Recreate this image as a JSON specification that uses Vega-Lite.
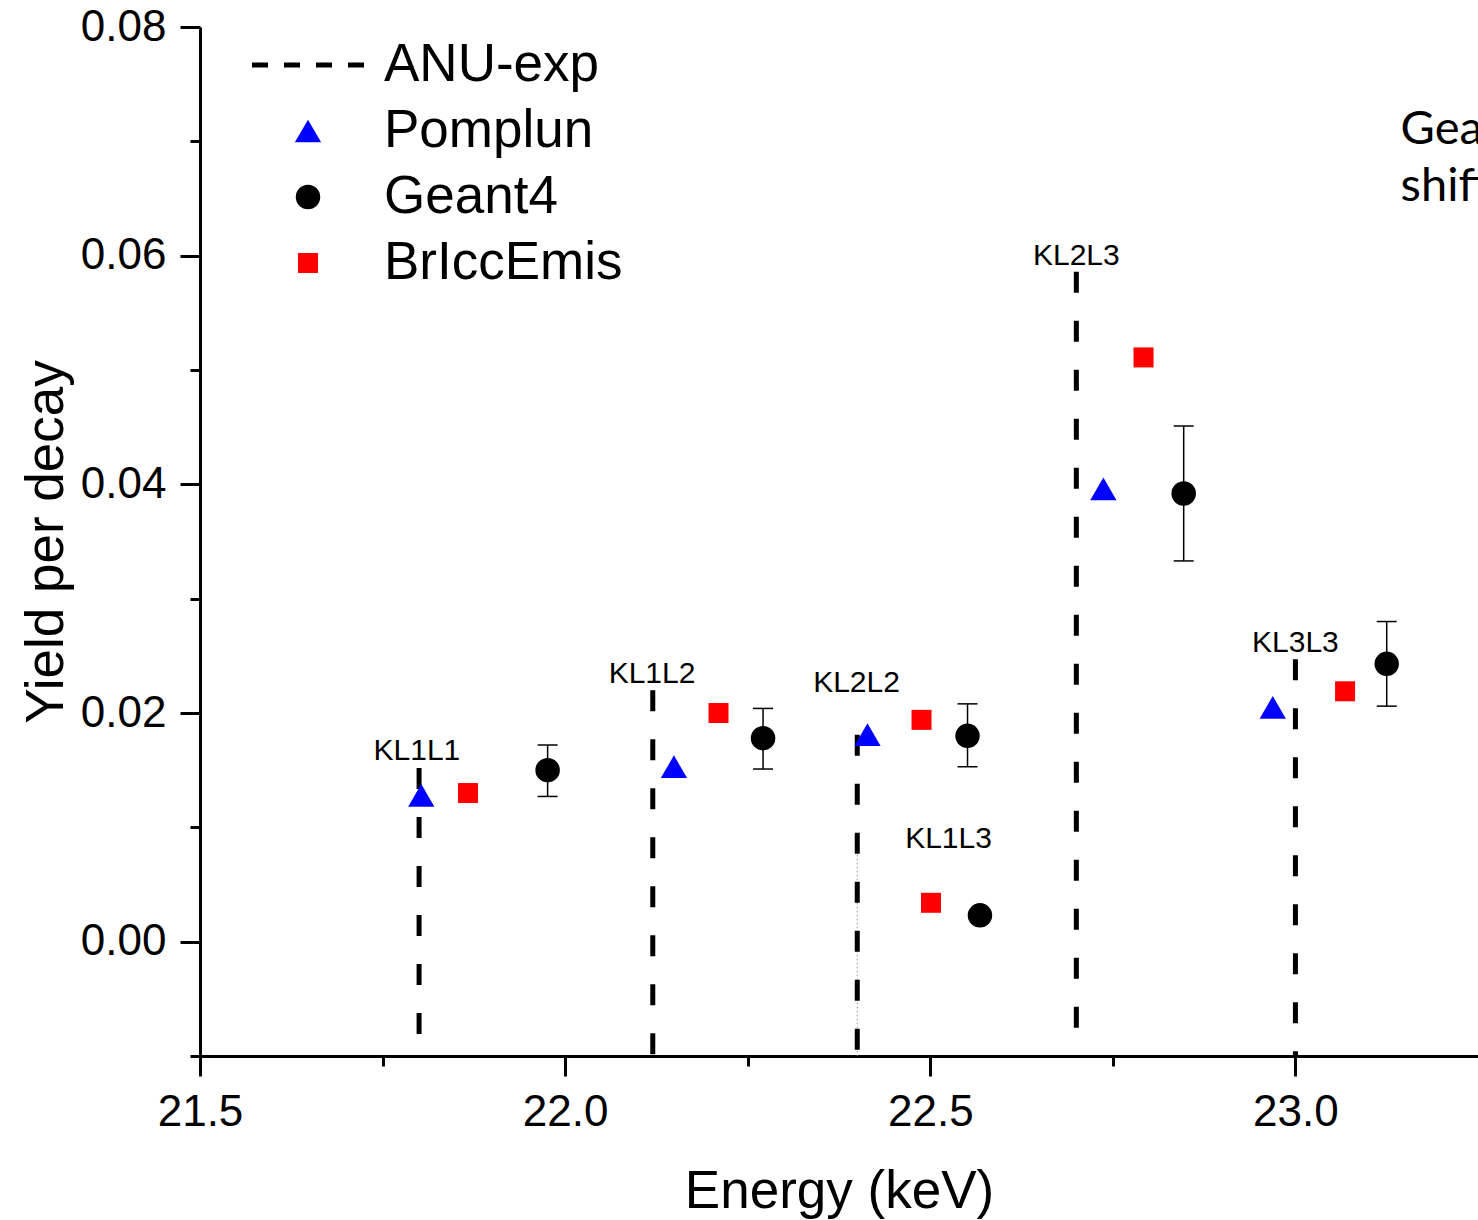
{
  "$schema": "https://vega.github.io/schema/vega-lite/v6.json",
  "width": 1278,
  "height": 1029,
  "autosize": {"type": "none"},
  "padding": {"left": 200, "top": 27, "right": 0, "bottom": 164},
  "background": "white",
  "config": {
    "view": {"stroke": null},
    "font": "Liberation Sans",
    "axis": {
      "domainColor": "black",
      "domainWidth": 3,
      "tickColor": "black",
      "tickWidth": 3,
      "grid": false,
      "labelFlush": false,
      "labelOverlap": false,
      "labelColor": "black",
      "titleColor": "black",
      "labelFont": "Liberation Sans",
      "titleFont": "Liberation Sans",
      "titleFontWeight": "normal"
    }
  },
  "datasets": {
    "anu": [
      {"line": "KL1L1", "energy": 21.80, "yield": 0.0152},
      {"line": "KL1L2", "energy": 22.12, "yield": 0.0220},
      {"line": "KL2L2", "energy": 22.40, "yield": 0.0181},
      {"line": "KL2L3", "energy": 22.70, "yield": 0.0586},
      {"line": "KL3L3", "energy": 23.00, "yield": 0.0247}
    ],
    "anuFaint": [
      {"line": "KL1L3", "energy": 22.40, "yield": 0.0076}
    ],
    "pts": [
      {"series": "Pomplun", "line": "KL1L1", "energy": 21.803, "yield": 0.0128},
      {"series": "Pomplun", "line": "KL1L2", "energy": 22.149, "yield": 0.0153},
      {"series": "Pomplun", "line": "KL2L2", "energy": 22.414, "yield": 0.0181},
      {"series": "Pomplun", "line": "KL2L3", "energy": 22.737, "yield": 0.0396},
      {"series": "Pomplun", "line": "KL3L3", "energy": 22.969, "yield": 0.0205},
      {"series": "Geant4", "line": "KL1L1", "energy": 21.976, "yield": 0.0150, "lo": 0.0127, "hi": 0.0172},
      {"series": "Geant4", "line": "KL1L2", "energy": 22.271, "yield": 0.0178, "lo": 0.0151, "hi": 0.0204},
      {"series": "Geant4", "line": "KL2L2", "energy": 22.551, "yield": 0.0180, "lo": 0.0153, "hi": 0.0208},
      {"series": "Geant4", "line": "KL1L3", "energy": 22.568, "yield": 0.0023},
      {"series": "Geant4", "line": "KL2L3", "energy": 22.847, "yield": 0.0392, "lo": 0.0333, "hi": 0.0451},
      {"series": "Geant4", "line": "KL3L3", "energy": 23.125, "yield": 0.0243, "lo": 0.0206, "hi": 0.0280},
      {"series": "BrIccEmis", "line": "KL1L1", "energy": 21.867, "yield": 0.0130},
      {"series": "BrIccEmis", "line": "KL1L2", "energy": 22.210, "yield": 0.0200},
      {"series": "BrIccEmis", "line": "KL2L2", "energy": 22.488, "yield": 0.0194},
      {"series": "BrIccEmis", "line": "KL1L3", "energy": 22.501, "yield": 0.0034},
      {"series": "BrIccEmis", "line": "KL2L3", "energy": 22.792, "yield": 0.0511},
      {"series": "BrIccEmis", "line": "KL3L3", "energy": 23.068, "yield": 0.0219}
    ],
    "labels": [
      {"text": "KL1L1", "energy": 21.797, "yield": 0.0167},
      {"text": "KL1L2", "energy": 22.119, "yield": 0.0234},
      {"text": "KL2L2", "energy": 22.399, "yield": 0.0226},
      {"text": "KL1L3", "energy": 22.525, "yield": 0.0090},
      {"text": "KL2L3", "energy": 22.700, "yield": 0.0600},
      {"text": "KL3L3", "energy": 23.000, "yield": 0.0261}
    ],
    "notes": [
      {"text": "Geant4", "energy": 23.144, "yield": 0.0710},
      {"text": "shifted", "energy": 23.144, "yield": 0.0660}
    ]
  },
  "layer": [
    {
      "description": "minor ticks on both axes",
      "data": {"name": "pts"},
      "mark": {"type": "point", "opacity": 0},
      "encoding": {
        "x": {"field": "energy", "type": "quantitative",
              "scale": {"domain": [21.5, 23.25], "nice": false, "zero": false},
              "axis": {"orient": "bottom", "values": [21.75, 22.25, 22.75], "tickSize": 10, "labels": false, "domain": false, "title": null}},
        "y": {"field": "yield", "type": "quantitative",
              "scale": {"domain": [-0.01, 0.08], "nice": false, "zero": false},
              "axis": {"orient": "left", "values": [-0.01, 0.01, 0.03, 0.05, 0.07], "tickSize": 10, "labels": false, "domain": false, "title": null}}
      }
    },
    {
      "data": {"name": "anuFaint"},
      "mark": {"type": "rule", "color": "#8a8a8a", "strokeWidth": 1, "strokeDash": [1.5, 2.5]},
      "encoding": {
        "x": {"field": "energy", "type": "quantitative", "scale": {"domain": [21.5, 23.25], "nice": false, "zero": false}, "axis": null},
        "y": {"field": "yield", "type": "quantitative", "scale": {"domain": [-0.01, 0.08], "nice": false, "zero": false}, "axis": null},
        "y2": {"datum": -0.01}
      }
    },
    {
      "data": {"name": "anu"},
      "mark": {"type": "rule", "color": "black", "strokeWidth": 5, "strokeDash": [21, 28], "strokeCap": "butt"},
      "encoding": {
        "x": {"field": "energy", "type": "quantitative",
              "scale": {"domain": [21.5, 23.25], "nice": false, "zero": false},
              "axis": {"orient": "bottom", "values": [21.5, 22.0, 22.5, 23.0], "format": ".1f", "tickSize": 20,
                       "labelFontSize": 44, "labelPadding": 14, "title": "Energy (keV)", "titleFontSize": 53,
                       "titleX": 639, "titleY": 151, "titleAlign": "center", "titleBaseline": "alphabetic"}},
        "y": {"field": "yield", "type": "quantitative",
              "scale": {"domain": [-0.01, 0.08], "nice": false, "zero": false},
              "axis": {"orient": "left", "values": [0, 0.02, 0.04, 0.06, 0.08], "format": ".2f", "tickSize": 20,
                       "labelFontSize": 44, "labelPadding": 14, "title": "Yield per decay", "titleFontSize": 53,
                       "titleAngle": -90, "titleX": -138, "titleY": 514.5, "titleAlign": "center", "titleBaseline": "alphabetic"}},
        "y2": {"datum": -0.01}
      }
    },
    {
      "data": {"name": "pts"},
      "transform": [{"filter": "isValid(datum.lo)"}],
      "mark": {"type": "rule", "color": "black", "strokeWidth": 1.5},
      "encoding": {
        "x": {"field": "energy", "type": "quantitative", "scale": {"domain": [21.5, 23.25], "nice": false, "zero": false}, "axis": null},
        "y": {"field": "lo", "type": "quantitative", "scale": {"domain": [-0.01, 0.08], "nice": false, "zero": false}, "axis": null},
        "y2": {"field": "hi"}
      }
    },
    {
      "data": {"name": "pts"},
      "transform": [{"filter": "isValid(datum.lo)"}],
      "mark": {"type": "tick", "orient": "horizontal", "color": "black", "size": 20, "thickness": 1.5, "opacity": 1},
      "encoding": {
        "x": {"field": "energy", "type": "quantitative", "scale": {"domain": [21.5, 23.25], "nice": false, "zero": false}, "axis": null},
        "y": {"field": "lo", "type": "quantitative", "scale": {"domain": [-0.01, 0.08], "nice": false, "zero": false}, "axis": null}
      }
    },
    {
      "data": {"name": "pts"},
      "transform": [{"filter": "isValid(datum.hi)"}],
      "mark": {"type": "tick", "orient": "horizontal", "color": "black", "size": 20, "thickness": 1.5, "opacity": 1},
      "encoding": {
        "x": {"field": "energy", "type": "quantitative", "scale": {"domain": [21.5, 23.25], "nice": false, "zero": false}, "axis": null},
        "y": {"field": "hi", "type": "quantitative", "scale": {"domain": [-0.01, 0.08], "nice": false, "zero": false}, "axis": null}
      }
    },
    {
      "data": {"name": "pts"},
      "mark": {"type": "point", "filled": true, "opacity": 1, "strokeWidth": 0},
      "encoding": {
        "x": {"field": "energy", "type": "quantitative", "scale": {"domain": [21.5, 23.25], "nice": false, "zero": false}, "axis": null},
        "y": {"field": "yield", "type": "quantitative", "scale": {"domain": [-0.01, 0.08], "nice": false, "zero": false}, "axis": null},
        "color": {"field": "series", "type": "nominal",
                  "scale": {"domain": ["ANU-exp", "Pomplun", "Geant4", "BrIccEmis"], "range": ["#000000", "#0000ff", "#000000", "#ff0000"]},
                  "legend": {"title": null, "orient": "none", "legendX": 81.5, "legendY": 11.5, "padding": 0,
                             "labelFont": "Liberation Sans", "labelFontSize": 53, "labelColor": "black", "labelLimit": 500,
                             "labelOffset": 49.5, "rowPadding": 12, "symbolStrokeWidth": 0, "symbolOpacity": 1}},
        "shape": {"field": "series", "type": "nominal",
                  "scale": {"domain": ["ANU-exp", "Pomplun", "Geant4", "BrIccEmis"],
                            "range": ["M-4.3077,-0.1923H-3.0769V0.1923H-4.3077ZM-1.8462,-0.1923H-0.6154V0.1923H-1.8462ZM0.6154,-0.1923H1.8462V0.1923H0.6154ZM3.0769,-0.1923H4.3077V0.1923H3.0769Z", "triangle-up", "circle", "square"]},
                  "legend": {"title": null, "orient": "none", "legendX": 81.5, "legendY": 11.5, "padding": 0,
                             "labelFont": "Liberation Sans", "labelFontSize": 53, "labelColor": "black", "labelLimit": 500,
                             "labelOffset": 49.5, "rowPadding": 12, "symbolStrokeWidth": 0, "symbolOpacity": 1}},
        "size": {"field": "series", "type": "nominal",
                 "scale": {"type": "ordinal", "domain": ["ANU-exp", "Pomplun", "Geant4", "BrIccEmis"], "range": [676, 690, 600, 400]},
                 "legend": {"title": null, "orient": "none", "legendX": 81.5, "legendY": 11.5, "padding": 0,
                            "labelFont": "Liberation Sans", "labelFontSize": 53, "labelColor": "black", "labelLimit": 500,
                            "labelOffset": 49.5, "rowPadding": 12, "symbolStrokeWidth": 0, "symbolOpacity": 1}}
      }
    },
    {
      "data": {"name": "labels"},
      "mark": {"type": "text", "font": "Liberation Sans", "fontSize": 30, "color": "black", "align": "center", "baseline": "middle"},
      "encoding": {
        "x": {"field": "energy", "type": "quantitative", "scale": {"domain": [21.5, 23.25], "nice": false, "zero": false}, "axis": null},
        "y": {"field": "yield", "type": "quantitative", "scale": {"domain": [-0.01, 0.08], "nice": false, "zero": false}, "axis": null},
        "text": {"field": "text"}
      }
    },
    {
      "data": {"name": "notes"},
      "mark": {"type": "text", "font": "Lato", "fontSize": 47, "color": "black", "align": "left", "baseline": "middle", "clip": true},
      "encoding": {
        "x": {"field": "energy", "type": "quantitative", "scale": {"domain": [21.5, 23.25], "nice": false, "zero": false}, "axis": null},
        "y": {"field": "yield", "type": "quantitative", "scale": {"domain": [-0.01, 0.08], "nice": false, "zero": false}, "axis": null},
        "text": {"field": "text"}
      }
    }
  ],
  "resolve": {"axis": {"x": "independent", "y": "independent"}}
}
